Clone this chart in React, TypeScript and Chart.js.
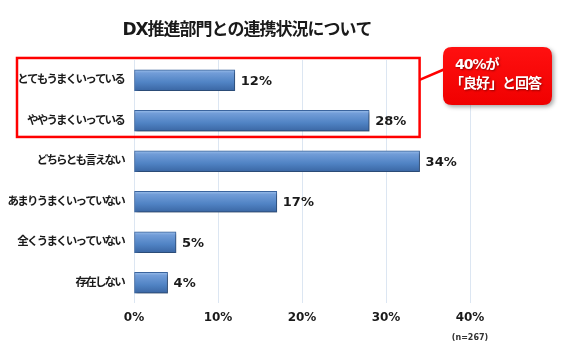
import React, { useEffect, useRef } from "react";
import { Chart, registerables } from "chart.js";

Chart.register(...registerables);

const chartTitle = "DX推進部門との連携状況について";
const categories = [
  "とてもうまくいっている",
  "ややうまくいっている",
  "どちらとも言えない",
  "あまりうまくいっていない",
  "全くうまくいっていない",
  "存在しない",
];
const values = [12, 28, 34, 17, 5, 4];
const xMin = 0;
const xMax = 40;
const xStep = 10;
const calloutLines = ["40%が", "「良好」と回答"];
const sampleNote = "(n=267)";

const FONT = '"DejaVu Sans", "Noto Sans CJK JP", sans-serif';

function roundRect(ctx: CanvasRenderingContext2D, x: number, y: number, w: number, h: number, r: number) {
  ctx.beginPath();
  ctx.moveTo(x + r, y);
  ctx.lineTo(x + w - r, y);
  ctx.quadraticCurveTo(x + w, y, x + w, y + r);
  ctx.lineTo(x + w, y + h - r);
  ctx.quadraticCurveTo(x + w, y + h, x + w - r, y + h);
  ctx.lineTo(x + r, y + h);
  ctx.quadraticCurveTo(x, y + h, x, y + h - r);
  ctx.lineTo(x, y + r);
  ctx.quadraticCurveTo(x, y, x + r, y);
  ctx.closePath();
}

const decorPlugin = {
  id: "decor",
  beforeDraw(chart: any) {
    (chart.ctx as any).letterSpacing = "-1.8px";
  },
  beforeDatasetsDraw(chart: any) {
    const ctx = chart.ctx;
    (ctx as any).letterSpacing = "0px";
    ctx.save();
    ctx.shadowColor = "rgba(0,0,0,0.35)";
    ctx.shadowBlur = 3;
    ctx.shadowOffsetX = 2;
    ctx.shadowOffsetY = 2;
  },
  afterDatasetsDraw(chart: any) {
    const ctx = chart.ctx;
    ctx.restore();
    const meta = chart.getDatasetMeta(0);
    ctx.save();
    ctx.font = `bold 13px ${FONT}`;
    ctx.fillStyle = "#1a1a1a";
    ctx.textAlign = "left";
    ctx.textBaseline = "middle";
    meta.data.forEach((el: any, i: number) => {
      ctx.fillText(values[i] + "%", el.x + 6, el.y + 1);
    });
    ctx.restore();
  },
  afterDraw(chart: any) {
    const ctx = chart.ctx;
    const xs = chart.scales.x;
    const ys = chart.scales.y;
    ctx.save();
    (ctx as any).letterSpacing = "-1px";
    // title
    ctx.font = `bold 17px ${FONT}`;
    ctx.fillStyle = "#1a1a1a";
    ctx.textAlign = "center";
    ctx.textBaseline = "middle";
    ctx.fillText(chartTitle, 247, 31);
    (ctx as any).letterSpacing = "0px";

    // red highlight box
    const spacing = ys.getPixelForValue(1) - ys.getPixelForValue(0);
    const top = ys.getPixelForValue(0) - spacing * 0.55;
    const bottom = ys.getPixelForValue(1) + spacing * 0.4;
    const left = 17;
    const right = xs.getPixelForValue(Math.max(...values));
    ctx.strokeStyle = "#ff0000";
    ctx.lineWidth = 2.5;
    ctx.strokeRect(left, top, right - left, bottom - top);

    // connector
    const cx = 443, cy = 47, cw = 109, ch = 58;
    ctx.beginPath();
    ctx.moveTo(right, top + 22);
    ctx.lineTo(cx + 2, cy + 22);
    ctx.stroke();

    // callout
    ctx.save();
    ctx.shadowColor = "rgba(0,0,0,0.35)";
    ctx.shadowBlur = 4;
    ctx.shadowOffsetX = 2;
    ctx.shadowOffsetY = 2;
    roundRect(ctx, cx, cy, cw, ch, 9);
    const g = ctx.createLinearGradient(0, cy, 0, cy + ch);
    g.addColorStop(0, "#ff1010");
    g.addColorStop(1, "#f00000");
    ctx.fillStyle = g;
    ctx.fill();
    ctx.restore();

    ctx.save();
    ctx.shadowColor = "rgba(0,0,0,0.4)";
    ctx.shadowBlur = 2;
    ctx.shadowOffsetX = 1;
    ctx.shadowOffsetY = 1;
    ctx.font = `bold 14px ${FONT}`;
    ctx.fillStyle = "#ffffff";
    ctx.textAlign = "left";
    ctx.textBaseline = "middle";
    (ctx as any).letterSpacing = "-1px";
    ctx.fillText(calloutLines[0], cx + 12, cy + 18);
    ctx.fillText(calloutLines[1], cx + 7, cy + 37);
    ctx.restore();

    // sample note
    ctx.font = `bold 8px ${FONT}`;
    ctx.fillStyle = "#333333";
    ctx.textAlign = "center";
    ctx.textBaseline = "middle";
    ctx.fillText(sampleNote, xs.getPixelForValue(xMax), 338);
    ctx.restore();
    (ctx as any).letterSpacing = "0px";
  },
};

export default function App() {
  const ref = useRef<HTMLCanvasElement | null>(null);
  useEffect(() => {
    if (!ref.current) return;
    const chart = new Chart(ref.current, {
      type: "bar",
      data: {
        labels: categories,
        datasets: [
          {
            data: values,
            barThickness: 21,
            borderColor: "#3a659f",
            borderWidth: 1,
            borderSkipped: false,
            backgroundColor: (c: any) => {
              const ch = c.chart;
              const ys = ch.scales && ch.scales.y;
              if (!ys || !ch.chartArea || c.dataIndex == null) return "#4f81bd";
              const y = ys.getPixelForValue(c.dataIndex);
              const g = ch.ctx.createLinearGradient(0, y - 10.5, 0, y + 10.5);
              g.addColorStop(0, "#9cbfea");
              g.addColorStop(0.15, "#729dd8");
              g.addColorStop(0.6, "#5083c4");
              g.addColorStop(1, "#3a66a3");
              return g;
            },
          },
        ],
      },
      options: {
        indexAxis: "y",
        responsive: false,
        animation: false,
        events: [],
        layout: { padding: { left: 0, right: 96, top: 60, bottom: 0 } },
        plugins: {
          legend: { display: false },
          tooltip: { enabled: false },
          title: { display: false },
        },
        scales: {
          x: {
            type: "linear",
            min: xMin,
            max: xMax,
            afterFit: (s: any) => {
              s.height = 55;
            },
            ticks: {
              stepSize: xStep,
              callback: (v: any) => v + "%",
              font: { family: FONT, size: 12, weight: "bold" },
              color: "#1a1a1a",
              padding: 8,
              z: 1,
            },
            grid: { color: "#dce6f2", drawTicks: false, lineWidth: 1 },
            border: { display: false },
          },
          y: {
            type: "category",
            afterFit: (s: any) => {
              s.width = 134;
            },
            ticks: {
              font: { family: FONT, size: 11.5, weight: "bold" },
              color: "#1a1a1a",
              padding: 10,
            },
            grid: { display: false, drawTicks: false },
            border: { display: false },
          },
        },
      } as any,
      plugins: [decorPlugin],
    });
    return () => chart.destroy();
  }, []);
  return (
    <div style={{ position: "absolute", left: 0, top: 0, width: 566, height: 358, background: "#fff" }}>
      <canvas ref={ref} width={566} height={358} style={{ display: "block" }} />
    </div>
  );
}
